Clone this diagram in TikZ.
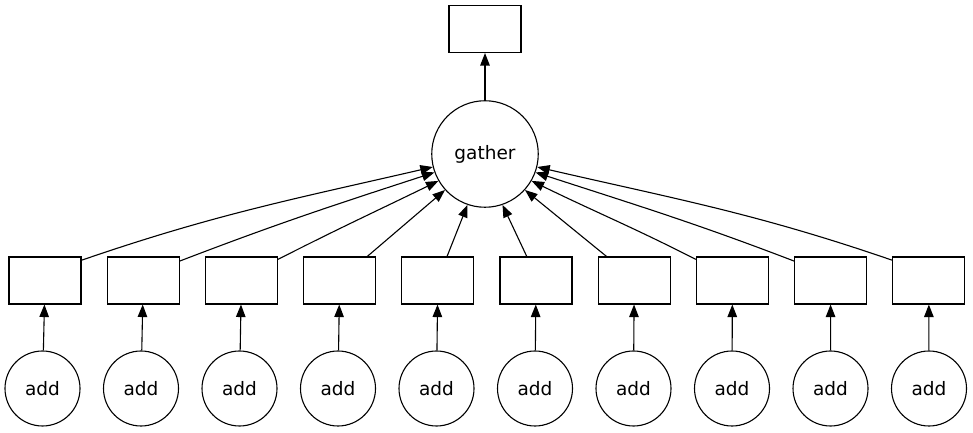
\documentclass[tikz,border=0pt]{standalone}
\usepackage{fontspec}
\setmainfont{DejaVu Sans}
\usetikzlibrary{arrows.meta}
\begin{document}
\begin{tikzpicture}[x=1pt,y=1pt,
  box/.style={draw, line width=1.1pt, minimum width=72pt, minimum height=47pt, inner sep=0pt},
  addc/.style={draw, circle, line width=1.1pt, minimum size=75pt, inner sep=0pt, font=\fontsize{18.5}{22}\selectfont},
  gath/.style={draw, circle, line width=1.1pt, minimum size=106.5pt, inner sep=0pt, font=\fontsize{18.5}{22}\selectfont},
  edge/.style={line width=1.1pt, -{Triangle[length=12.5pt,width=9.5pt]}}]
\useasboundingbox (0,0) rectangle (973,433);
\node[box] (top) at (485,404) {};
\node[gath] (g) at (485,279) {gather};
\foreach \i in {1,...,10} {
  \pgfmathsetmacro{\rx}{45+98.2*(\i-1)}
  \pgfmathsetmacro{\ax}{42.5+98.5*(\i-1)}
  \node[box] (r\i) at (\rx,152.5) {};
  \node[addc] (a\i) at (\ax,44.5) {add};
  \draw[edge] (a\i) -- (r\i);
}
\draw[edge] (g) -- (top);
\draw[edge] (r1.29) to[out=19,in=193] (g.194);
\draw[edge] (r2.28) to[out=21,in=198] (g.200);
\draw[edge] (r3.30) to[out=27,in=206] (g.210);
\draw[edge] (r4.41) -- (g.222);
\draw[edge] (r5.69) -- (g.251);
\draw[edge] (r6.111) -- (g.289);
\draw[edge] (r7.139) -- (g.318);
\draw[edge] (r8.150) to[out=153,in=-26] (g.330);
\draw[edge] (r9.152) to[out=159,in=-18] (g.340);
\draw[edge] (r10.151) to[out=161,in=-13] (g.346);
\end{tikzpicture}
\end{document}
